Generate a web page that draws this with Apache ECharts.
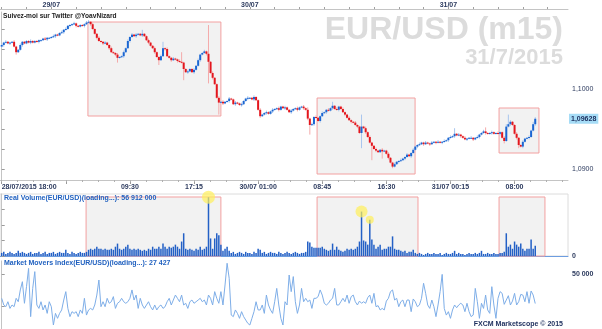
<!DOCTYPE html>
<html><head><meta charset="utf-8">
<script src="https://cdn.jsdelivr.net/npm/echarts@6/dist/echarts.min.js"></script>
<style>html,body{margin:0;padding:0;background:#fff}#c{width:602px;height:329px}</style>
</head><body><div id="c"></div>
<script>
// ---- data (15-minute EUR/USD candles, 28/07/2015 18:00 -> 31/07/2015 10:30) ----
const firstOpen = 1.1053;
const closes = [
1.1055,1.1058,1.1059,1.1057,1.1058,1.1059,1.1053,1.1046,1.1049,1.1055,
1.1059,1.1057,1.1060,1.1058,1.1060,1.1058,1.1060,1.1059,1.1061,1.1061,
1.1063,1.1062,1.1064,1.1064,1.1065,1.1066,1.1068,1.1067,1.1070,1.1071,
1.1074,1.1075,1.1079,1.1080,1.1081,1.1082,1.1079,1.1078,1.1080,1.1079,
1.1081,1.1083,1.1084,1.1081,1.1075,1.1069,1.1064,1.1060,1.1059,1.1057,
1.1058,1.1055,1.1051,1.1046,1.1045,1.1043,1.1039,1.1040,1.1041,1.1046,
1.1051,1.1060,1.1065,1.1068,1.1066,1.1068,1.1069,1.1067,1.1069,1.1066,
1.1061,1.1058,1.1054,1.1051,1.1046,1.1040,1.1036,1.1041,1.1051,1.1050,
1.1041,1.1039,1.1036,1.1038,1.1037,1.1035,1.1034,1.1033,1.1025,1.1021,
1.1022,1.1025,1.1021,1.1024,1.1029,1.1036,1.1043,1.1045,1.1047,1.1044,
1.1034,1.1020,1.1014,1.1006,1.0989,1.0983,1.0984,1.0982,1.0984,1.0985,
1.0988,1.0987,1.0981,1.0983,1.0982,1.0980,1.0981,1.0985,1.0988,1.0989,
1.0989,1.0987,1.0990,1.0986,1.0974,1.0966,1.0968,1.0970,1.0971,1.0969,
1.0972,1.0974,1.0975,1.0976,1.0974,1.0978,1.0976,1.0977,1.0974,1.0971,
1.0973,1.0975,1.0976,1.0974,1.0977,1.0978,1.0976,1.0974,1.0963,1.0955,
1.0956,1.0965,1.0964,1.0960,1.0966,1.0970,1.0971,1.0974,1.0973,1.0976,
1.0979,1.0975,1.0974,1.0978,1.0975,1.0971,1.0968,1.0964,1.0961,1.0959,
1.0958,1.0955,1.0953,1.0945,1.0953,1.0951,1.0946,1.0940,1.0933,1.0929,
1.0925,1.0923,1.0921,1.0924,1.0922,1.0923,1.0919,1.0914,1.0908,1.0903,
1.0906,1.0909,1.0910,1.0911,1.0913,1.0915,1.0918,1.0916,1.0920,1.0924,
1.0928,1.0930,1.0931,1.0933,1.0931,1.0933,1.0932,1.0931,1.0933,1.0934,
1.0933,1.0934,1.0933,1.0934,1.0935,1.0936,1.0939,1.0940,1.0941,1.0944,
1.0942,1.0943,1.0941,1.0939,1.0937,1.0938,1.0939,1.0939,1.0937,1.0939,
1.0940,1.0943,1.0945,1.0947,1.0945,1.0944,1.0945,1.0946,1.0944,1.0945,
1.0944,1.0946,1.0939,1.0935,1.0953,1.0956,1.0959,1.0955,1.0944,1.0939,
1.0930,1.0928,1.0934,1.0938,1.0939,1.0940,1.0948,1.0956,1.09628];
// wick lengths beyond the body, in pips
const wickUp = [
1,1,2,1,1,1,2,1,1,2,1,1,1,1,2,1,1,1,1,1,
1,2,1,1,1,2,1,1,1,2,1,2,1,1,1,2,1,1,1,1,
1,2,2,1,2,1,1,2,1,1,2,1,1,2,1,1,2,1,1,2,
1,2,1,2,1,2,1,1,5,1,1,2,1,1,2,1,1,2,8,1,
2,1,1,2,1,1,2,12,1,1,2,1,1,2,1,2,1,1,2,1,
36,1,2,1,1,2,1,2,1,1,2,1,1,2,1,1,2,1,1,2,
1,1,2,1,1,2,1,1,2,1,1,2,1,1,2,1,1,2,1,1,
2,1,1,2,1,1,2,1,3,1,2,1,2,1,1,2,1,1,2,1,
5,1,2,1,1,2,1,1,2,1,1,2,1,1,15,1,2,1,2,1,
1,2,1,1,2,1,1,2,1,1,2,1,1,2,1,1,2,1,1,2,
1,1,2,1,1,2,1,1,2,1,1,2,1,1,2,1,1,2,1,7,
1,2,1,1,2,1,1,2,1,1,2,1,1,2,5,1,1,2,1,1,
2,1,1,2,3,12,2,1,1,2,1,1,2,1,1,2,1,3,2];
const wickDn = [
1,2,1,1,2,1,1,3,1,1,2,1,1,1,2,1,1,1,2,1,
1,1,2,1,1,1,2,1,1,1,2,1,1,2,1,1,2,1,1,1,
2,1,1,2,1,1,2,1,1,2,1,1,2,1,1,2,6,1,1,2,
1,1,2,1,1,2,1,1,2,1,1,2,1,1,2,1,6,1,1,2,
1,1,2,1,1,2,1,1,14,1,2,1,1,2,1,1,2,1,1,2,
27,1,2,1,1,15,1,2,1,1,2,1,1,2,1,1,2,1,1,2,
1,1,2,1,1,2,1,1,2,1,1,2,1,1,2,1,1,2,1,1,
2,1,1,2,1,1,2,1,2,12,1,2,1,1,2,1,1,2,1,1,
2,1,1,2,1,1,2,1,1,2,1,1,2,1,19,1,2,1,1,18,
1,2,1,1,9,1,1,2,1,2,1,1,2,1,1,2,1,1,2,1,
1,2,1,1,2,1,1,2,1,1,2,1,1,2,1,1,2,1,1,2,
1,1,2,1,1,2,1,1,2,1,1,2,1,1,2,1,1,2,1,1,
1,2,1,3,1,1,2,1,1,2,4,1,2,1,1,2,1,1,2];
// real volume, millions
const volumes = [
3,4,2,3,4,3,2,3,5,3,4,3,2,3,4,2,3,3,4,2,
3,4,2,3,3,4,2,3,4,3,3,6,3,2,4,3,2,3,4,3,
3,4,6,7,6,7,9,7,7,6,7,6,6,7,6,9,12,7,6,7,
9,11,7,6,7,6,7,6,5,6,5,7,6,9,7,7,9,7,12,9,
7,9,8,9,11,9,7,14,22,7,6,7,6,5,7,6,9,6,7,9,
56.912,17,7,17,22,20,11,5,7,9,5,3,4,2,3,4,3,2,4,3,
3,2,4,3,7,6,3,4,2,3,4,3,3,2,4,3,2,3,4,3,
2,3,4,3,2,3,3,4,14,13,9,8,8,8,8,9,7,6,5,6,
12,6,9,6,5,4,5,7,6,7,6,7,9,14,43,15,14,11,35,16,
11,7,9,11,6,7,7,9,9,19,7,6,6,5,4,5,3,4,4,6,
3,2,3,2,1,2,3,2,2,3,2,2,3,1,2,3,2,2,3,5,
2,3,2,2,1,2,3,2,2,3,2,3,5,2,2,3,2,2,3,2,
2,3,3,4,22,9,11,7,14,11,9,12,7,5,7,7,16,7,10];
// market movers index
const movers = [
31400,26300,25000,28800,23700,26300,25000,31400,28800,37800,
44100,27600,40300,54300,17400,39000,51800,26300,23700,28800,
22500,26300,19900,28800,25000,11000,19900,16100,19900,22500,
30100,36500,23700,17400,21200,19900,21200,17400,22500,19900,
31400,18600,22500,23700,22500,26300,33900,45400,25000,28800,
25000,31400,27600,28800,32700,23700,27600,28800,31400,28800,
27600,28800,31400,37800,30100,33900,23700,31400,26300,23700,
26300,28800,25000,22500,26300,22500,25000,26300,23700,25000,
28800,31400,26300,30100,33900,31400,28800,33900,26300,27600,
23700,28800,30100,27600,28800,30100,31400,28800,30100,26300,
33900,31400,26300,36500,31400,27600,36500,26300,41600,58200,
46700,18600,17400,22500,19900,16100,21200,17400,14800,12300,
11000,16100,21200,28800,22500,22500,26300,19900,33900,26300,
22500,19900,28800,39000,26300,16100,11000,28800,26300,49200,
36500,48000,28800,19900,26300,39000,28800,31400,28800,30100,
23700,31400,31400,32700,37800,33900,27600,26300,27600,30100,
31400,39000,26300,26300,28800,31400,28800,33900,27600,32700,
33900,28800,26300,29300,27600,28800,27600,31900,33900,27600,
35200,25000,25800,22500,23700,22500,29300,31400,36500,37800,
30100,31400,25000,28800,30100,25000,30100,30100,21200,30900,
28800,25000,26300,31400,42900,35200,26300,23700,30100,25000,
17400,26300,36500,49700,23700,18600,21200,16100,22500,26300,
24200,26300,27600,26300,21200,27600,21200,17400,18600,39000,
28800,16100,27600,23700,33900,22500,19900,40300,26300,16100,
31400,36500,35200,26800,30100,33400,26300,29300,35200,26300,
28800,34400,33900,28800,36500,27600,37000,33900,27427];
// axis labels
const bottomTickIdx = [0,31,62,93,124,155,186,217,248];
const bottomLabels = ['28/07/2015 18:00','','09:30','17:15','30/07 01:00','08:45','16:30','31/07 00:15','08:00'];
const topTickIdx = [24,120,216];
const topLabels = ['29/07','30/07','31/07'];
const priceLabelValues = [1.09, 1.10];
// highlighted zones [fromIdx, toIdx, priceTop, priceBottom]
const priceBoxes = [[41.7,106.0,1.108375,1.096625],[152.5,199.9,1.098875,1.089375],[240.5,259.8,1.097625,1.092]];
const volBoxes = [[40.8,106.0],[152.5,201.3],[240.5,262.7]];
const volBoxTop = 57.1;
const volHighlights = [[100,13],[174,12],[178,8]];

// ---- chart ----
const XMIN = -0.82, XMAX = 273.84;
const YMIN = 1.088625, YMAX = 1.109625;
const FONT = 'Liberation Sans';
const NAVY = '#2c3a5e';
const UP = '#1b66d2', DN = '#e3161d', UPW = '#a8c6ee', DNW = '#f4aaaa';
const pip = 0.0001;
const fmtSpace = n => String(Math.round(n)).replace(/\B(?=(\d{3})+(?!\d))/g, ' ');
const candles = closes.map((c, i) => {
  const o = i === 0 ? firstOpen : closes[i - 1];
  return [i, o, c, Math.min(o, c) - wickDn[i] * pip, Math.max(o, c) + wickUp[i] * pip];
});
const volData = volumes.map((v, i) => [i, v * 1e6]);
const movData = movers.map((v, i) => [i, v]);
const minorTicks = []; for (let t = 0; t <= XMAX; t += 7.75) minorTicks.push(t);
const topTicks = []; for (let t = 0; t <= XMAX; t += 12) topTicks.push(t);
const priceTicks = []; for (let k = 0; k < 8; k++) priceTicks.push(+(1.09 + k * 0.0025).toFixed(4));
const labelIdx = bottomTickIdx.filter((_, k) => bottomLabels[k]);
const maxVol = Math.max(...volumes) * 1e6;
const lastIdx = closes.length - 1;
const lastPrice = closes[lastIdx];

const lbl = {fontFamily: FONT, fontSize: 7, fontWeight: 'bold', color: NAVY};
const boxStyle = {color: '#f2f2f2', borderColor: '#f3a0a0', borderWidth: 1};

function renderCandle(params, api) {
  const i = api.value(0), o = api.value(1), c = api.value(2), l = api.value(3), h = api.value(4);
  const pO = api.coord([i, o]), pC = api.coord([i, c]);
  const yL = api.coord([i, l])[1], yH = api.coord([i, h])[1];
  const up = c >= o;
  const cx = pO[0];
  const top = Math.min(pO[1], pC[1]);
  const hgt = Math.max(1, Math.abs(pO[1] - pC[1]));
  const children = [
    {type: 'line', shape: {x1: cx, y1: yH, x2: cx, y2: yL}, style: {stroke: up ? UPW : DNW, lineWidth: 1}},
    {type: 'rect', shape: {x: cx - 1, y: top, width: 2, height: hgt}, style: {fill: up ? UP : DN}}
  ];
  if (params.dataIndex === lastIdx) {
    // current price tag on the right-hand price axis
    const cs = params.coordSys;
    children.push({type: 'text', x: cs.x + cs.width + 1, y: pC[1], style: {
      text: c.toFixed(5).replace('.', ','), fill: '#1b2d5c', backgroundColor: '#a6dcf6',
      padding: [2, 2, 1, 2], fontFamily: FONT, fontSize: 7, fontWeight: 'bold', verticalAlign: 'middle', align: 'left'}});
  }
  return {type: 'group', children};
}

const chart = echarts.init(document.getElementById('c'), null, {renderer: 'canvas'});
chart.setOption({
  animation: false,
  backgroundColor: '#fff',
  title: [
    {text: 'EUR/USD (m15)', right: 39, top: 14, padding: 0, textStyle: {fontFamily: FONT, fontSize: 32, fontWeight: 'bold', color: '#dcdcdc'}},
    {text: '31/7/2015', right: 39, top: 46.5, padding: 0, textStyle: {fontFamily: FONT, fontSize: 22, fontWeight: 'bold', color: '#dcdcdc'}},
    {text: 'Suivez-moi sur Twitter @YoavNizard', left: 3, top: 12.5, padding: 0, textStyle: {fontFamily: FONT, fontSize: 6.6, fontWeight: 'bold', color: '#222'}},
    {text: 'Real Volume(EUR/USD)(loading...): ' + fmtSpace(maxVol), left: 4, top: 194.5, padding: 0, textStyle: {fontFamily: FONT, fontSize: 7, fontWeight: 'bold', color: '#2262c0'}},
    {text: 'Market Movers Index(EUR/USD)(loading...): ' + fmtSpace(movers[movers.length - 1]), left: 4, top: 259.5, padding: 0, textStyle: {fontFamily: FONT, fontSize: 7, fontWeight: 'bold', color: '#2262c0'}},
    {text: 'FXCM Marketscope © 2015', right: 39, top: 321, padding: 0, textStyle: {fontFamily: FONT, fontSize: 7, fontWeight: 'bold', color: '#1b2d5c'}}
  ],
  grid: [
    {left: 0, width: 568, top: 12, height: 168, outerBoundsMode: 'none', containLabel: false},
    {left: 0, width: 568, top: 194, height: 62, outerBoundsMode: 'none', containLabel: false, show: true, borderColor: '#dcdcdc', borderWidth: 1},
    {left: 0, width: 568, top: 260.9, height: 78.5, outerBoundsMode: 'none', containLabel: false}
  ],
  xAxis: [
    {gridIndex: 0, type: 'value', min: XMIN, max: XMAX, position: 'bottom',
     axisLine: {lineStyle: {color: '#c4c4c4'}}, splitLine: {show: false},
     axisTick: {customValues: bottomTickIdx, length: 4, lineStyle: {color: '#9a9a9a'}},
     axisLabel: {customValues: labelIdx, margin: 4, alignMinLabel: 'left', hideOverlap: false, ...lbl,
       formatter: v => bottomLabels[bottomTickIdx.indexOf(Math.round(v))] || ''}},
    {gridIndex: 0, type: 'value', min: XMIN, max: XMAX, position: 'bottom',
     axisLine: {show: false}, splitLine: {show: false}, axisLabel: {show: false},
     axisTick: {customValues: minorTicks, length: 2, lineStyle: {color: '#b0b0b0'}}},
    {gridIndex: 0, type: 'value', min: XMIN, max: XMAX, position: 'top', offset: 3,
     axisLine: {lineStyle: {color: '#c4c4c4'}}, splitLine: {show: false},
     axisTick: {customValues: topTicks, length: 2, lineStyle: {color: '#a0a0a0'}},
     axisLabel: {customValues: topTickIdx, margin: 0, hideOverlap: false, ...lbl,
       formatter: v => topLabels[topTickIdx.indexOf(Math.round(v))] || ''}},
    {gridIndex: 1, type: 'value', min: XMIN, max: XMAX,
     axisLine: {lineStyle: {color: '#6d9de0'}}, axisTick: {show: false}, axisLabel: {show: false}, splitLine: {show: false}},
    {gridIndex: 2, type: 'value', min: XMIN, max: XMAX, show: false, splitLine: {show: false}}
  ],
  yAxis: [
    {gridIndex: 0, type: 'value', position: 'right', min: YMIN, max: YMAX,
     axisLine: {show: true, lineStyle: {color: '#c4c4c4'}}, splitLine: {show: false},
     axisTick: {show: true, customValues: priceTicks, length: 3, lineStyle: {color: '#9a9a9a'}},
     axisLabel: {customValues: priceLabelValues, margin: 4, hideOverlap: false, ...lbl, fontWeight: 'normal',
       formatter: v => v.toFixed(4).replace('.', ',')}},
    {gridIndex: 1, type: 'value', position: 'right', min: 0, max: 60e6,
     axisLine: {show: true, lineStyle: {color: '#c4c4c4'}}, splitLine: {show: false},
     axisTick: {show: true, customValues: [0, 15e6, 30e6, 45e6], length: 3, lineStyle: {color: '#9a9a9a'}},
     axisLabel: {customValues: [0], margin: 4, ...lbl, formatter: v => fmtSpace(v)}},
    {gridIndex: 2, type: 'value', position: 'right', min: 0, max: 60000,
     axisLine: {show: true, lineStyle: {color: '#c4c4c4'}}, splitLine: {show: false},
     axisTick: {show: true, customValues: [25000, 50000], length: 3, lineStyle: {color: '#9a9a9a'}},
     axisLabel: {customValues: [50000], margin: 4, ...lbl, formatter: v => fmtSpace(v)}}
  ],
  series: [
    {type: 'line', xAxisIndex: 0, yAxisIndex: 0, data: [], z: 1, silent: true,
     markArea: {silent: true, itemStyle: boxStyle,
       data: priceBoxes.map(b => [{coord: [b[0], b[2]]}, {coord: [b[1], b[3]]}])}},
    {type: 'line', xAxisIndex: 3, yAxisIndex: 1, data: [], z: 1, silent: true,
     markArea: {silent: true, itemStyle: boxStyle,
       data: volBoxes.map(b => [{coord: [b[0], volBoxTop * 1e6]}, {coord: [b[1], 0]}])}},
    {type: 'custom', name: 'EUR/USD', xAxisIndex: 0, yAxisIndex: 0, z: 4, data: candles, silent: true,
     encode: {x: 0, y: [1, 2, 3, 4]}, renderItem: renderCandle, clip: false,
     markPoint: {silent: true, symbol: 'triangle', symbolSize: [5, 4], symbolRotate: 180,
       itemStyle: {color: '#f0a020'}, label: {show: false},
       data: topTickIdx.map(i => ({coord: [i, YMAX + 0.00025]}))}},
    {type: 'bar', name: 'Real Volume', xAxisIndex: 3, yAxisIndex: 1, z: 3, data: volData, barWidth: 1.5, silent: true,
     itemStyle: {color: '#2360c6'},
     markPoint: {silent: true, symbol: 'circle', label: {show: false},
       itemStyle: {color: 'rgba(255,240,90,0.7)'},
       data: volHighlights.map(h => ({coord: [h[0], volumes[h[0]] * 1e6], symbolSize: h[1]}))}},
    {type: 'line', name: 'Market Movers Index', xAxisIndex: 4, yAxisIndex: 2, z: 3, data: movData, silent: true,
     symbol: 'none', lineStyle: {color: '#7eaee8', width: 1}}
  ]
});
</script>
</body></html>
